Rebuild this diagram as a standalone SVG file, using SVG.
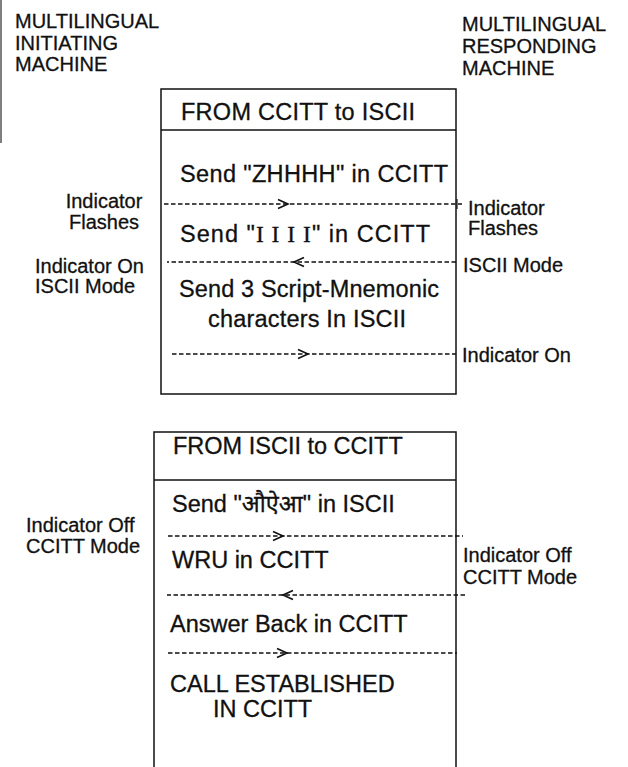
<svg xmlns="http://www.w3.org/2000/svg" width="628" height="767" viewBox="0 0 628 767">
<style>
  .bx { fill: none; stroke: #111; stroke-width: 1.5; }
  .t { font-family: "Liberation Sans", Arial, "Noto Sans Devanagari", "FreeSans", sans-serif; fill: #111; stroke: #111; stroke-width: 0.3; }
  .big { font-size: 23.5px; }
  .lab { font-size: 20px; }
  .dash { fill: none; stroke: #111; stroke-width: 1.3; stroke-dasharray: 4.5 2.5; marker-mid: url(#chev); }
</style>
<defs>
  <marker id="chev" viewBox="-12 -6 14 12" refX="0" refY="0" markerWidth="14" markerHeight="12" markerUnits="userSpaceOnUse" orient="auto">
    <path d="M-10,-4.5 L0,0 L-10,4.5" fill="none" stroke="#111" stroke-width="1.6"/>
  </marker>
</defs>
<rect width="628" height="767" fill="#fff"/>
<line x1="1" y1="0" x2="1" y2="143" stroke="#555" stroke-width="1.5"/>

<g id="initiating-machine">
  <text class="t lab" x="15" y="28">MULTILINGUAL</text>
  <text class="t lab" x="15" y="50">INITIATING</text>
  <text class="t lab" x="15" y="71">MACHINE</text>
</g>
<g id="responding-machine">
  <text class="t lab" x="462" y="31">MULTILINGUAL</text>
  <text class="t lab" x="462" y="53">RESPONDING</text>
  <text class="t lab" x="462" y="75">MACHINE</text>
</g>

<g id="box-ccitt-to-iscii">
  <rect class="bx" x="161" y="89" width="295" height="305"/>
  <line class="bx" x1="161" y1="130" x2="456" y2="130"/>
  <text class="t big" x="181" y="120" textLength="234">FROM CCITT to ISCII</text>
  <text class="t big" x="180" y="182" textLength="268">Send "ZHHHH" in CCITT</text>
  <text class="t big" x="180" y="242" textLength="250" lengthAdjust="spacing">Send "<tspan font-family="'Liberation Serif', 'Times New Roman', serif">I I I I</tspan>" in CCITT</text>
  <text class="t big" x="179" y="297" textLength="260">Send 3 Script-Mnemonic</text>
  <text class="t big" x="208" y="327" textLength="198">characters In ISCII</text>
</g>

<g id="box-iscii-to-ccitt">
  <path class="bx" d="M154,767 V432 H456 V767"/>
  <line class="bx" x1="154" y1="480" x2="456" y2="480"/>
  <text class="t big" x="173" y="454">FROM ISCII  to CCITT</text>
  <text class="t big" x="172" y="512">Send "<tspan font-family="'Noto Sans Devanagari', 'Lohit Devanagari', 'FreeSans', 'Mangal', sans-serif">औऐआ</tspan>" in ISCII</text>
  <text class="t big" x="172" y="568">WRU in CCITT</text>
  <text class="t big" x="170" y="632">Answer Back in CCITT</text>
  <text class="t big" x="170" y="692">CALL ESTABLISHED</text>
  <text class="t big" x="213" y="717">IN CCITT</text>
</g>

<g id="left-labels">
  <text class="t lab" x="104" y="208" text-anchor="middle">Indicator</text>
  <text class="t lab" x="104" y="229" text-anchor="middle">Flashes</text>
  <text class="t lab" x="35" y="273">Indicator On</text>
  <text class="t lab" x="35" y="293">ISCII  Mode</text>
  <text class="t lab" x="26" y="532">Indicator Off</text>
  <text class="t lab" x="26" y="553">CCITT Mode</text>
</g>

<g id="right-labels">
  <text class="t lab" x="468" y="215">Indicator</text>
  <text class="t lab" x="468" y="235">Flashes</text>
  <text class="t lab" x="463" y="272">ISCII  Mode</text>
  <text class="t lab" x="462" y="362">Indicator On</text>
  <text class="t lab" x="463" y="562">Indicator Off</text>
  <text class="t lab" x="463" y="584">CCITT Mode</text>
</g>

<g id="connectors">
  <path class="dash" d="M164,204 L288,204 L462,204"/>
  <line x1="457" y1="199" x2="457" y2="209" stroke="#111" stroke-width="1.2"/>
  <path class="dash" d="M456,262 L294,262 L167,262"/>
  <path class="dash" d="M172,354 L308,354 L456,354"/>
  <path class="dash" d="M168,536 L283,536 L463,536"/>
  <path class="dash" d="M465,595 L283,595 L167,595"/>
  <path class="dash" d="M168,653 L287,653 L457,653"/>
</g>
</svg>
